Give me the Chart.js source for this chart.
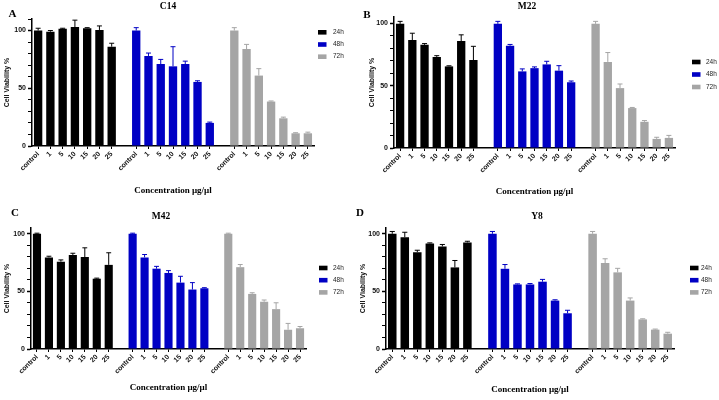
<!DOCTYPE html>
<html><head><meta charset="utf-8">
<script src="https://cdn.jsdelivr.net/npm/chart.js@4"></script>
<style>
html,body{margin:0;padding:0;background:#fff;width:719px;height:400px;overflow:hidden;position:relative}
canvas{position:absolute}
</style></head><body>
<canvas id="cA" width="360" height="200" style="left:0;top:0"></canvas>
<canvas id="cB" width="359" height="200" style="left:360px;top:0"></canvas>
<canvas id="cC" width="360" height="200" style="left:0;top:200px"></canvas>
<canvas id="cD" width="369" height="200" style="left:350px;top:200px"></canvas>
<script>
// ---- data ----
const groupLabels = ["control", "1", "5", "10", "15", "20", "25"];
const seriesNames = ["24h", "48h", "72h"];
const yTickLabels = [0, 50, 100];

const c14_24 = [100, 99, 101.5, 103, 102, 100.5, 86];
const c14_24_err = [2, 1, 0.5, 6, 0.5, 3.5, 3];
const c14_48 = [100, 78, 71, 69, 71, 55.5, 20];
const c14_48_err = [2.5, 2.5, 4, 17, 2.5, 1, 0.7];
const c14_72 = [100, 84, 61, 38.5, 24, 11, 11];
const c14_72_err = [2.5, 4, 6, 0.5, 1, 0.5, 1];

const m22_24 = [99.5, 86.5, 82.7, 73, 65.4, 85.7, 70.5];
const m22_24_err = [2, 5.5, 1, 1, 0.5, 5, 11];
const m22_48 = [99.5, 82, 61.4, 64, 67, 62, 52.7];
const m22_48_err = [2, 1, 2, 1, 2.5, 4, 1];
const m22_72 = [99.5, 69, 48, 32, 21, 7.3, 8.1];
const m22_72_err = [2, 7.5, 3.3, 0.5, 1, 1.3, 2];

const m42_24 = [100, 79.5, 75.8, 81.6, 79.8, 61, 73];
const m42_24_err = [0.5, 1, 1.5, 1.5, 8, 0.5, 10.5];
const m42_48 = [100, 79.5, 69.7, 66, 57.6, 51.6, 52.7];
const m42_48_err = [0.5, 2.5, 2, 2, 5.5, 6, 0.5];
const m42_72 = [100, 71, 47.8, 41, 34.6, 16.7, 18];
const m42_72_err = [0.5, 2.3, 1, 1.5, 5.5, 5.5, 1.5];

const y8_24 = [100, 97, 84, 91.6, 89, 70.8, 92.5];
const y8_24_err = [2, 4.3, 1.7, 0.5, 1.7, 6, 1];
const y8_48 = [100, 69.6, 56, 56, 58.4, 42, 31];
const y8_48_err = [2, 3.7, 0.5, 0.8, 2, 0.7, 2.6];
const y8_72 = [100, 74.6, 66.5, 42, 25.7, 16.8, 13.3];
const y8_72_err = [2, 3.7, 3.5, 2.3, 0.5, 0.5, 1.2];

// ---- styling ----
const colors = ["#000000", "#0000c4", "#a5a5a5"];
const SANS = "'Liberation Sans', Arial, sans-serif";
const SERIF = "'Liberation Serif', 'Times New Roman', serif";

const allLabels = [...groupLabels, "", ...groupLabels, "", ...groupLabels];
function place(values, g) {
  const arr = new Array(allLabels.length).fill(null);
  values.forEach((v, i) => { arr[g * (groupLabels.length + 1) + i] = v; });
  return arr;
}

const errorBars = {
  id: 'errorBars',
  afterDatasetsDraw(chart) {
    const ctx = chart.ctx, y = chart.scales.y;
    chart.data.datasets.forEach((ds, di) => {
      const meta = chart.getDatasetMeta(di);
      meta.data.forEach((bar, i) => {
        const v = ds.data[i], e = ds.errors[i];
        if (v == null || e == null) return;
        const yTop = y.getPixelForValue(v + e);
        const half = bar.width * 0.3;
        ctx.save();
        ctx.strokeStyle = ds.backgroundColor;
        ctx.lineWidth = 1;
        ctx.beginPath();
        ctx.moveTo(bar.x, bar.y);
        ctx.lineTo(bar.x, yTop);
        ctx.moveTo(bar.x - half, yTop);
        ctx.lineTo(bar.x + half, yTop);
        ctx.stroke();
        ctx.restore();
      });
    });
  }
};

const sideLegend = {
  id: 'sideLegend',
  afterDraw(chart, args, o) {
    const ctx = chart.ctx;
    ctx.save();
    ctx.font = '6.5px ' + SANS;
    ctx.textBaseline = 'middle';
    ctx.textAlign = 'left';
    chart.data.datasets.forEach((ds, i) => {
      const cy = o.y + i * o.gap;
      ctx.fillStyle = ds.backgroundColor;
      ctx.fillRect(o.x, cy - 2.3, 8.5, 4.6);
      ctx.fillStyle = '#222';
      ctx.fillText(ds.label, o.textX, cy);
    });
    ctx.restore();
  }
};

const panelText = {
  id: 'panelText',
  afterDraw(chart, args, o) {
    const ctx = chart.ctx;
    ctx.save();
    ctx.fillStyle = '#000';
    ctx.textAlign = 'center';
    ctx.textBaseline = 'middle';
    ctx.font = 'bold 11px ' + SERIF;
    ctx.fillText(o.letter, o.lx, o.ly);
    ctx.font = 'bold 9.5px ' + SERIF;
    ctx.fillText(o.title, o.tx, o.ty);
    ctx.restore();
  }
};

function makeChart(id, s) {
  const cv = document.getElementById(id);
  const W = cv.width, H = cv.height;
  return new Chart(cv, {
    type: 'bar',
    data: {
      labels: allLabels,
      datasets: s.series.map((vals, g) => ({
        label: seriesNames[g],
        data: place(vals, g),
        errors: place(s.errors[g], g),
        backgroundColor: colors[g],
        borderWidth: 0,
        grouped: false,
        barPercentage: 0.68,
        categoryPercentage: 1
      }))
    },
    options: {
      responsive: false,
      devicePixelRatio: 1,
      animation: false,
      layout: { padding: { left: 0, top: s.area.top, right: W - s.area.right, bottom: 0 } },
      plugins: {
        legend: { display: false },
        tooltip: { enabled: false },
        sideLegend: s.legend,
        panelText: s.text
      },
      scales: {
        x: {
          type: 'category',
          offset: true,
          grid: {
            display: true, drawOnChartArea: false, drawTicks: true, offset: false,
            tickLength: 3, tickWidth: 1,
            tickColor: (c) => (allLabels[c.index] === '' ? 'rgba(0,0,0,0)' : '#000')
          },
          border: { display: true, color: '#000', width: 1.5 },
          ticks: {
            autoSkip: false, maxRotation: 45, minRotation: 45, padding: 1,
            color: '#111', font: { family: SANS, size: 7, weight: 'bold' }
          },
          title: {
            display: true, text: 'Concentration µg/µl', color: '#000',
            font: { family: SERIF, size: 9, weight: 'bold' },
            padding: { top: 0, bottom: s.xTitlePad }
          },
          afterFit: (sc) => { sc.height = H - s.area.bottom; }
        },
        y: {
          min: 0, max: s.ymax,
          grid: {
            display: true, drawOnChartArea: false, drawTicks: true,
            tickLength: 4, tickColor: '#000',
            tickWidth: (c) => (c.tick && yTickLabels.includes(c.tick.value) ? 1.5 : 1)
          },
          border: { display: true, color: '#000', width: 1.5 },
          ticks: {
            stepSize: 10, autoSkip: false, includeBounds: false, padding: 2, color: '#111',
            font: { family: SANS, size: 7, weight: 'bold' },
            callback: (v) => (yTickLabels.includes(v) ? String(v) : '')
          },
          title: {
            display: true, text: 'Cell Viability %', color: '#111',
            font: { family: SANS, size: 7, weight: 'bold' },
            padding: { top: s.yTitlePad, bottom: 0 }
          },
          afterFit: (sc) => { sc.width = s.area.left; }
        }
      }
    },
    plugins: [errorBars, sideLegend, panelText]
  });
}

makeChart('cA', {
  series: [c14_24, c14_48, c14_72], errors: [c14_24_err, c14_48_err, c14_72_err],
  area: { left: 32, right: 314, top: 19, bottom: 146 }, ymax: 110,
  yTitlePad: 2.8, xTitlePad: 3.6,
  legend: { x: 318, textX: 333, y: 32.3, gap: 12.2 },
  text: { letter: 'A', lx: 12.5, ly: 14, title: 'C14', tx: 168, ty: 7 }
});
makeChart('cB', {
  series: [m22_24, m22_48, m22_72], errors: [m22_24_err, m22_48_err, m22_72_err],
  area: { left: 34, right: 315, top: 17, bottom: 148 }, ymax: 105,
  yTitlePad: 7.8, xTitlePad: 2.6,
  legend: { x: 332, textX: 346, y: 62, gap: 12.5 },
  text: { letter: 'B', lx: 7, ly: 15, title: 'M22', tx: 167, ty: 7 }
});
makeChart('cC', {
  series: [m42_24, m42_48, m42_72], errors: [m42_24_err, m42_48_err, m42_72_err],
  area: { left: 31, right: 306, top: 28, bottom: 149 }, ymax: 105,
  yTitlePad: 2.8, xTitlePad: 6.6,
  legend: { x: 319, textX: 333, y: 68, gap: 12.2 },
  text: { letter: 'C', lx: 15, ly: 13, title: 'M42', tx: 161, ty: 17 }
});
makeChart('cD', {
  series: [y8_24, y8_48, y8_72], errors: [y8_24_err, y8_48_err, y8_72_err],
  area: { left: 36, right: 324, top: 28, bottom: 149 }, ymax: 105,
  yTitlePad: 8.8, xTitlePad: 4.6,
  legend: { x: 340, textX: 351, y: 68, gap: 12.2 },
  text: { letter: 'D', lx: 10, ly: 13, title: 'Y8', tx: 187, ty: 17 }
});
</script>
</body></html>
